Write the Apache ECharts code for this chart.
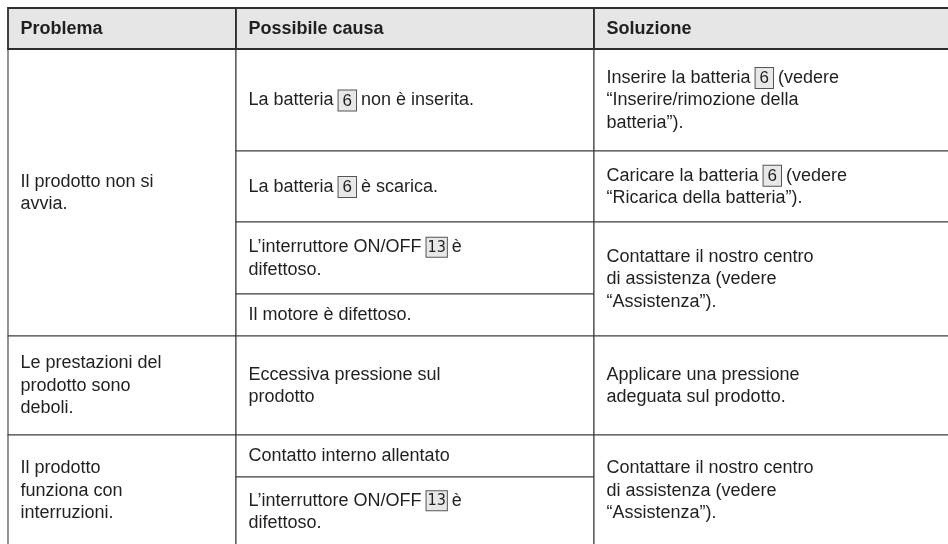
<!DOCTYPE html>
<html>
<head>
<meta charset="utf-8">
<script src="https://cdn.jsdelivr.net/npm/echarts@6/dist/echarts.min.js"></script>
<style>
  html, body { margin: 0; padding: 0; background: #ffffff; }
  #chart { width: 948px; height: 544px; }
</style>
</head>
<body>
<div id="chart"></div>
<script>
// ---- table content ----
const headers = ['Problema', 'Possibile causa', 'Soluzione'];

const problems = [
  'Il prodotto non si\navvia.',
  'Le prestazioni del\nprodotto sono\ndeboli.',
  'Il prodotto\nfunziona con\ninterruzioni.'
];
const problemRows = [[1, 4], [5, 5], [6, 7]];

const causes = [
  'La batteria [6] non è inserita.',
  'La batteria [6] è scarica.',
  'L’interruttore ON/OFF [13] è\ndifettoso.',
  'Il motore è difettoso.',
  'Eccessiva pressione sul\nprodotto',
  'Contatto interno allentato',
  'L’interruttore ON/OFF [13] è\ndifettoso.'
];
const causeRows = [[1, 1], [2, 2], [3, 3], [4, 4], [5, 5], [6, 6], [7, 7]];

const solutions = [
  'Inserire la batteria [6] (vedere\n“Inserire/rimozione della\nbatteria”).',
  'Caricare la batteria [6] (vedere\n“Ricarica della batteria”).',
  'Contattare il nostro centro\ndi assistenza (vedere\n“Assistenza”).',
  'Applicare una pressione\nadeguata sul prodotto.',
  'Contattare il nostro centro\ndi assistenza (vedere\n“Assistenza”).'
];
const solutionRows = [[1, 1], [2, 2], [3, 4], [5, 5], [6, 7]];

// ---- layout (table geometry) ----
const colEdges = [8, 236, 594, 952];
const rowEdges = [8, 49, 151, 222, 294, 336, 435, 477, 546];
const textPad = 12.5;

// build cells
const cells = [];
headers.forEach((h, c) => cells.push({ col: c, r0: 0, r1: 0, text: h, header: true }));
problems.forEach((t, i) => cells.push({ col: 0, r0: problemRows[i][0], r1: problemRows[i][1], text: t }));
causes.forEach((t, i) => cells.push({ col: 1, r0: causeRows[i][0], r1: causeRows[i][1], text: t }));
solutions.forEach((t, i) => cells.push({ col: 2, r0: solutionRows[i][0], r1: solutionRows[i][1], text: t }));

function toRich(t) {
  return t.replace(/\[(\d+)\]/g, function (m, n) {
    return n.length > 1 ? '{boxn|' + n + '}' : '{box|' + n + '}';
  });
}

const chart = echarts.init(document.getElementById('chart'), null, { renderer: 'canvas' });

chart.setOption({
  backgroundColor: '#ffffff',
  animation: false,
  grid: { left: 0, right: 0, top: 0, bottom: 0 },
  xAxis: { type: 'value', min: 0, max: 948, show: false },
  yAxis: { type: 'value', min: 0, max: 544, inverse: true, show: false },
  series: [{
    type: 'custom',
    coordinateSystem: 'cartesian2d',
    clip: false,
    data: cells.map(c => [colEdges[c.col], rowEdges[c.r0], colEdges[c.col + 1], rowEdges[c.r1 + 1]]),
    renderItem: function (params, api) {
      const cell = cells[params.dataIndex];
      const p0 = api.coord([api.value(0), api.value(1)]);
      const p1 = api.coord([api.value(2), api.value(3)]);
      const isHeader = !!cell.header;
      return {
        type: 'group',
        children: [
          {
            type: 'rect',
            shape: { x: p0[0], y: p0[1], width: p1[0] - p0[0], height: p1[1] - p0[1] },
            style: {
              fill: isHeader ? '#e6e6e6' : '#ffffff',
              stroke: isHeader ? '#2e2e2e' : '#3c3c3c',
              lineWidth: isHeader ? 1.8 : 1.1
            },
            z2: isHeader ? 2 : 1
          },
          {
            type: 'text',
            z2: 5,
            style: {
              text: toRich(cell.text),
              x: p0[0] + textPad,
              y: (p0[1] + p1[1]) / 2 + 0.5,
              verticalAlign: 'middle',
              align: 'left',
              fill: '#231f20',
              fontFamily: 'Liberation Sans, Arial, sans-serif',
              fontSize: 18,
              fontWeight: isHeader ? 'bold' : 'normal',
              lineHeight: 22.5,
              rich: {
                box: {
                  fontFamily: 'Liberation Sans, Arial, sans-serif',
                  fontSize: 17,
                  fill: '#231f20',
                  backgroundColor: '#e8e8e8',
                  borderColor: '#555555',
                  borderWidth: 1,
                  padding: [2, 4, 1, 4],
                  lineHeight: 22.5
                },
                boxn: {
                  fontFamily: 'Liberation Sans Narrow, DejaVu Sans Condensed, Arial, sans-serif',
                  fontSize: 16,
                  fill: '#231f20',
                  backgroundColor: '#e8e8e8',
                  borderColor: '#555555',
                  borderWidth: 1,
                  padding: [2, 1, 1, 1],
                  lineHeight: 22.5
                }
              }
            }
          }
        ]
      };
    }
  }]
});
</script>
</body>
</html>
